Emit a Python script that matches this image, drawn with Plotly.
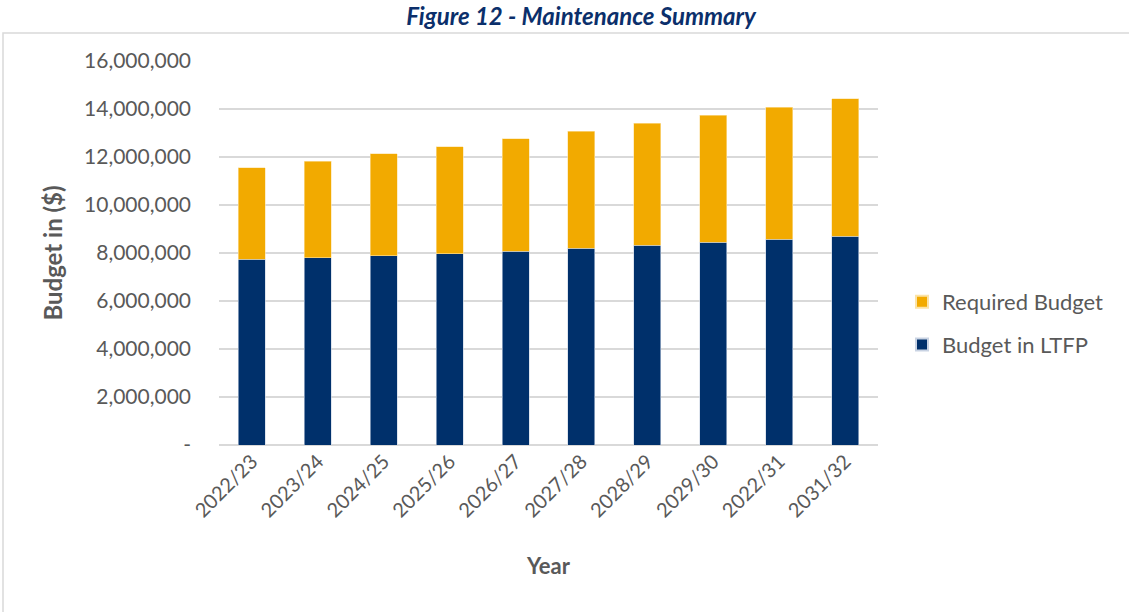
import plotly.graph_objects as go

# Financial years and the two stacked budget components (in dollars)
years = ["2022/23", "2023/24", "2024/25", "2025/26", "2026/27",
         "2027/28", "2028/29", "2029/30", "2022/31", "2031/32"]
budget_ltfp = [7740000, 7810000, 7890000, 7970000, 8080000,
               8190000, 8320000, 8450000, 8570000, 8700000]
required_budget = [3810000, 4020000, 4250000, 4460000, 4680000,
                   4890000, 5080000, 5290000, 5510000, 5730000]

y_tick_values = [0, 2000000, 4000000, 6000000, 8000000,
                 10000000, 12000000, 14000000, 16000000]
y_tick_labels = ["-", "2,000,000", "4,000,000", "6,000,000", "8,000,000",
                 "10,000,000", "12,000,000", "14,000,000", "16,000,000"]

NAVY = "#00306B"
GOLD = "#F2AA00"
GREY_TEXT = "#595959"
FONT = "Lato, 'Open Sans', sans-serif"

W, H = 1129, 612
ML, MR, MT, MB = 219, 251, 61, 167
PW, PH = W - ML - MR, H - MT - MB

fig = go.Figure()
fig.add_trace(go.Bar(
    x=years, y=budget_ltfp, name="Budget in LTFP",
    marker=dict(color=NAVY, line=dict(color="#C9D3E3", width=0.6)),
    legendgroup="ltfp", legendrank=2,
))
fig.add_trace(go.Bar(
    x=years, y=required_budget, name="Required Budget",
    marker=dict(color=GOLD, line=dict(color="#FBE3A8", width=0.6)),
    legendgroup="req", legendrank=1,
))

def px_x(p):
    return (p - ML) / PW

def px_y(p):
    return (H - MB - p) / PH

fig.update_layout(
    width=W, height=H,
    margin=dict(l=ML, r=MR, t=MT, b=MB),
    barmode="stack",
    bargap=0.59,
    plot_bgcolor="white",
    paper_bgcolor="white",
    font=dict(family=FONT, color=GREY_TEXT, size=20),
    title=dict(
        text="<b><i>Figure 12 - Maintenance Summary</i></b>",
        x=581 / W, xanchor="center", xref="container",
        y=1 - 17 / H, yanchor="middle", yref="container",
        font=dict(family=FONT, size=24, color="#0B2F6B"),
    ),
    xaxis=dict(
        tickangle=-45,
        tickfont=dict(size=20, color=GREY_TEXT),
        title=dict(text="<b>Year</b>", font=dict(size=22, color=GREY_TEXT), standoff=38),
        showgrid=False,
        showline=False,
        ticks="",
        fixedrange=True,
    ),
    yaxis=dict(
        range=[0, 16000000],
        tickvals=y_tick_values,
        ticktext=y_tick_labels,
        tickfont=dict(size=21, color=GREY_TEXT),
        ticklabelstandoff=27,
        title=dict(text="<b>Budget in ($)</b>", font=dict(size=24, color=GREY_TEXT), standoff=14),
        showgrid=True,
        gridcolor="#D9D9D9",
        gridwidth=1.5,
        zeroline=True,
        zerolinecolor="#D9D9D9",
        zerolinewidth=1.5,
        ticks="",
        fixedrange=True,
    ),
    legend=dict(
        x=px_x(902), xanchor="left",
        y=px_y(281), yanchor="top",
        traceorder="grouped",
        tracegroupgap=11,
        font=dict(size=22, color=GREY_TEXT),
        itemsizing="constant",
        bgcolor="rgba(0,0,0,0)",
    ),
    showlegend=True,
    shapes=[
        # light border framing the chart area
        dict(type="rect", xref="paper", yref="paper",
             x0=px_x(3), x1=px_x(1140), y0=px_y(33), y1=px_y(640),
             line=dict(color="#D9D9D9", width=1.5), layer="below"),
    ],
)

fig.write_html("out.html")
